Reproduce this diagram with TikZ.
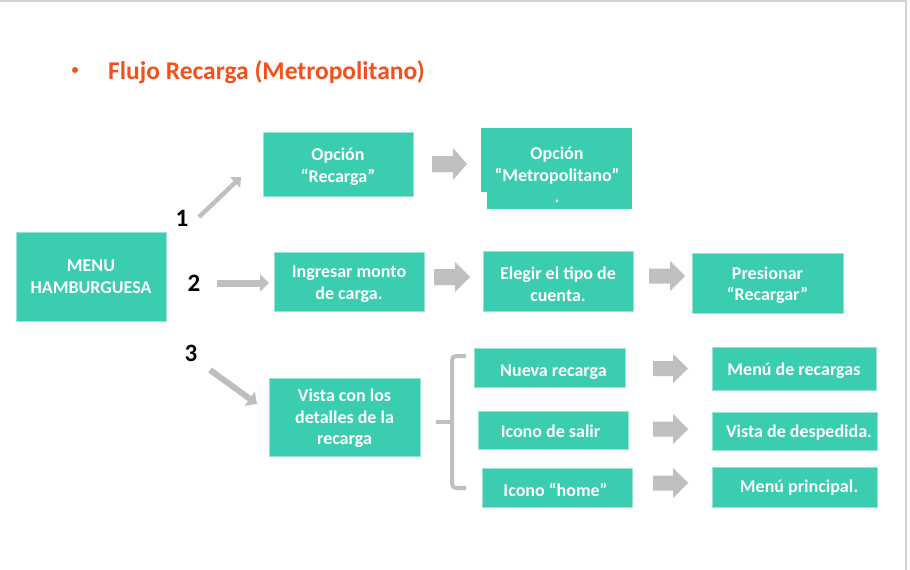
\documentclass[tikz,border=0pt]{standalone}
\usepackage{fontspec}
\setmainfont{Carlito}
\usetikzlibrary{arrows.meta}
\definecolor{boxc}{RGB}{58,205,176}
\definecolor{boxline}{RGB}{150,228,210}
\definecolor{arr}{RGB}{191,191,191}
\definecolor{ttl}{RGB}{244,80,28}
% block arrow: #1 name, #2 left x, #3 right x, #4 head start x, #5 mid y, #6 shaft half, #7 head half
\newcommand\blockarr[7]{%
  \fill[arr] (#2,#5-#6) -- (#4,#5-#6) -- (#4,#5-#7) -- (#3,#5) -- (#4,#5+#7) -- (#4,#5+#6) -- (#2,#5+#6) -- cycle;
  \coordinate (#1) at (#3,#5);}
% text box: #1 name, #2 width, #3 height, #4 centre, #5 text offset (down), #6 text
\newcommand\tbox[6]{%
  \node[box,minimum width=#2,minimum height=#3] (#1) at (#4) {};
  \node[btxt] (#1t) at ([yshift=-#5]#1.center) {#6};}
\begin{document}
\begin{tikzpicture}[x=1pt,y=-1pt,
  box/.style={fill=boxc,draw=boxline,line width=0.7pt,inner sep=0pt},
  btxt/.style={text=white,font=\bfseries\fontsize{18}{21.5}\selectfont,align=center,inner sep=0pt},
  thinarrow/.style={draw=arr,-{Triangle[width=17pt,length=9pt]}},
  num/.style={font=\bfseries\fontsize{25}{27}\selectfont,inner sep=0pt}]
\useasboundingbox (0,0) rectangle (910,570);
\fill[white] (0,0) rectangle (910,570);
\draw[gray!35,line width=1.2pt] (0,1) -- (906,1) -- (906,570);

% title
\fill[ttl] (75,70) circle (3pt);
\node[anchor=base west,inner sep=0pt,text=ttl,font=\bfseries\fontsize{25.5}{28}\selectfont] (title) at (108,79) {Flujo Recarga (Metropolitano)};

% boxes
\tbox{menu}{150pt}{89pt}{91,276.5}{0pt}{MENU\\HAMBURGUESA}
\tbox{rec}{150pt}{64pt}{338,164}{2.5pt}{Opción\\“Recarga”}
\fill[boxc] (487,128) rectangle (632,209);
\node[box,draw=none,minimum width=151pt,minimum height=64pt] (metro) at (556.5,160) {};
\node[btxt] (metrotxt) at (557,175) {Opción\\“Metropolitano”\\.};
\tbox{ing}{150pt}{59pt}{349,281.5}{2.5pt}{Ingresar monto\\de carga.}
\tbox{ele}{150pt}{60pt}{558,281}{3pt}{Elegir el tipo de\\cuenta.}
\tbox{pre}{151pt}{60pt}{767.5,283}{2pt}{Presionar\\“Recargar”}
\tbox{vis}{151pt}{78pt}{344.5,417}{1.5pt}{Vista con los\\detalles de la\\recarga}
\tbox{nue}{151pt}{39pt}{549.5,368}{4pt}{\hspace*{8pt}Nueva recarga}
\tbox{sal}{150pt}{38pt}{553,430}{1pt}{Icono de salir\hspace*{5pt}}
\tbox{hom}{150pt}{39pt}{557,488}{2pt}{Icono “home”\hspace*{3pt}}
\tbox{mre}{164pt}{43pt}{794,368.5}{2.5pt}{Menú de recargas}
\tbox{mde}{165pt}{38pt}{794.5,431}{2pt}{\hspace*{9pt}Vista de despedida.}
\tbox{mpr}{165pt}{40pt}{794.5,487}{0.5pt}{\hspace*{9pt}Menú principal.}

% block arrows
\blockarr{a1}{432}{467}{453}{164}{8}{16}
\blockarr{a2}{434}{470}{455}{277}{8}{15}
\blockarr{a3}{649}{685}{670}{276}{7.5}{15}
\blockarr{a4}{653}{688}{673}{368.5}{7.5}{14.5}
\blockarr{a5}{653}{688}{673}{429}{7.5}{15}
\blockarr{a6}{653}{688}{673}{483}{7.5}{15}

% numbers and thin arrows
\node[num] (n1) at (182,218) {1};
\node[num] (n2) at (194,283) {2};
\node[num] (n3) at (191,353) {3};
\coordinate (s1) at (199,217);
\coordinate (e1) at (241,177);
\draw[draw=arr,line width=4.5pt,-{Triangle[width=14pt,length=8pt]}] (s1) -- (e1);
\coordinate (s2) at (217,283);
\coordinate (e2) at (269,283);
\draw[thinarrow,line width=7pt] (s2) -- (e2);
\coordinate (s3) at (210,370);
\coordinate (e3) at (257,404);
\draw[thinarrow,line width=6pt] (s3) -- (e3);

% brace
\draw[arr,line width=4pt,rounded corners=4pt] (466,356) -| (452,422) |- (466,488);
\draw[arr,line width=4pt,rounded corners=3pt] (436,422) -- (452,422);
\end{tikzpicture}
\end{document}
